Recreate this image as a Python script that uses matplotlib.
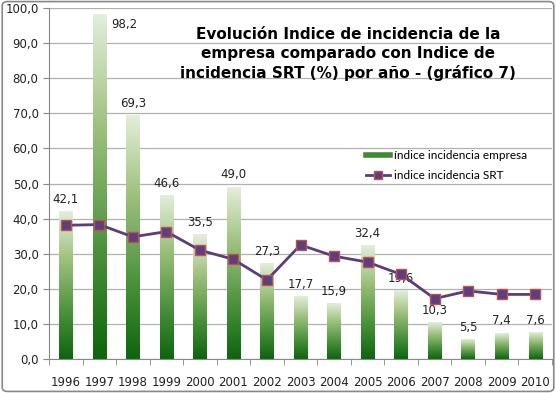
import numpy as np
import matplotlib.pyplot as plt
from matplotlib.colors import LinearSegmentedColormap
from matplotlib.lines import Line2D
from matplotlib.patches import FancyBboxPatch

years = ['1996', '1997', '1998', '1999', '2000', '2001', '2002', '2003',
         '2004', '2005', '2006', '2007', '2008', '2009', '2010']
empresa = [42.1, 98.2, 69.3, 46.6, 35.5, 49.0, 27.3, 17.7,
           15.9, 32.4, 19.6, 10.3, 5.5, 7.4, 7.6]
srt = [38.1, 38.3, 34.8, 36.3, 31.0, 28.4, 22.5, 32.5,
       29.3, 27.6, 24.1, 17.2, 19.4, 18.4, 18.4]

title = ('Evolución Indice de incidencia de la\n'
         'empresa comparado con Indice de\n'
         'incidencia SRT (%) por año - (gráfico 7)')

green = LinearSegmentedColormap.from_list(
    'g', ['#0d650d', '#4f9440', '#9cc07c', '#e4eedb'])

fig = plt.figure(figsize=(5.56, 3.93), dpi=100)
ax = fig.add_axes([49 / 556, 1 - 359 / 393, 503 / 556, 351 / 393])

x = np.arange(len(years))
w = 0.4
grad = np.linspace(0, 1, 256).reshape(-1, 1)
for xi, h in zip(x, empresa):
    ax.imshow(grad, cmap=green, origin='lower', aspect='auto',
              extent=[xi - w / 2, xi + w / 2, 0, h], zorder=2)

ax.plot(x, srt, color='#5b3d7a', lw=2, marker='s', ms=7,
        mfc='#5b3f7f', mec='#c0504d', mew=1, zorder=4)

for xi, h in zip(x, empresa):
    lbl = f'{h:.1f}'.replace('.', ',')
    if xi == 1:
        ax.text(xi + 0.35, h - 1, lbl, ha='left', va='top', fontsize=8.5,
                color='#222222', zorder=5)
    else:
        ax.text(xi, h + 1.6, lbl, ha='center', va='bottom', fontsize=8.5,
                color='#222222', zorder=3)

ax.set_xlim(-0.5, len(years) - 0.5)
ax.set_ylim(0, 100)
ax.set_yticks(np.arange(0, 101, 10))
ax.set_yticklabels([f'{v:.1f}'.replace('.', ',') for v in range(0, 101, 10)],
                   fontsize=8.5, color='#222222')
ax.set_xticks(x)
ax.set_xticklabels(years, fontsize=8.5, color='#222222')
ax.set_xticks(np.arange(-0.5, len(years), 1), minor=True)
ax.tick_params(axis='x', which='major', length=0, pad=12)
ax.tick_params(axis='x', which='minor', length=4, color='#888888')
ax.tick_params(axis='y', length=4, color='#888888')
ax.yaxis.grid(True, color='#b0b0b0', lw=0.9)
ax.set_axisbelow(True)
for s in ['top', 'right']:
    ax.spines[s].set_visible(False)
for s in ['left', 'bottom']:
    ax.spines[s].set_color('#888888')

fig.text(348 / 556, 1 - 54 / 393, title, ha='center', va='center',
         fontsize=11, fontweight='bold', linespacing=1.3)

handles = [Line2D([], [], color='#3d8a30', lw=4),
           Line2D([], [], color='#5b3d7a', lw=2, marker='s', ms=6,
                  mfc='#5b3f7f', mec='#c0504d')]
ax.legend(handles, ['índice incidencia empresa', 'indice incidencia SRT'],
          loc='upper left', bbox_to_anchor=(0.61, 0.625), frameon=False,
          prop={'family': 'Lato', 'size': 8.5}, handlelength=2.0,
          handletextpad=0.3, labelspacing=0.75)

fig.patches.append(FancyBboxPatch((0.004, 0.004), 0.992, 0.992,
                                  boxstyle='round,pad=0,rounding_size=0.01',
                                  transform=fig.transFigure, fill=False,
                                  ec='#888888', lw=1.2))

fig.savefig('out.png', dpi=100)
